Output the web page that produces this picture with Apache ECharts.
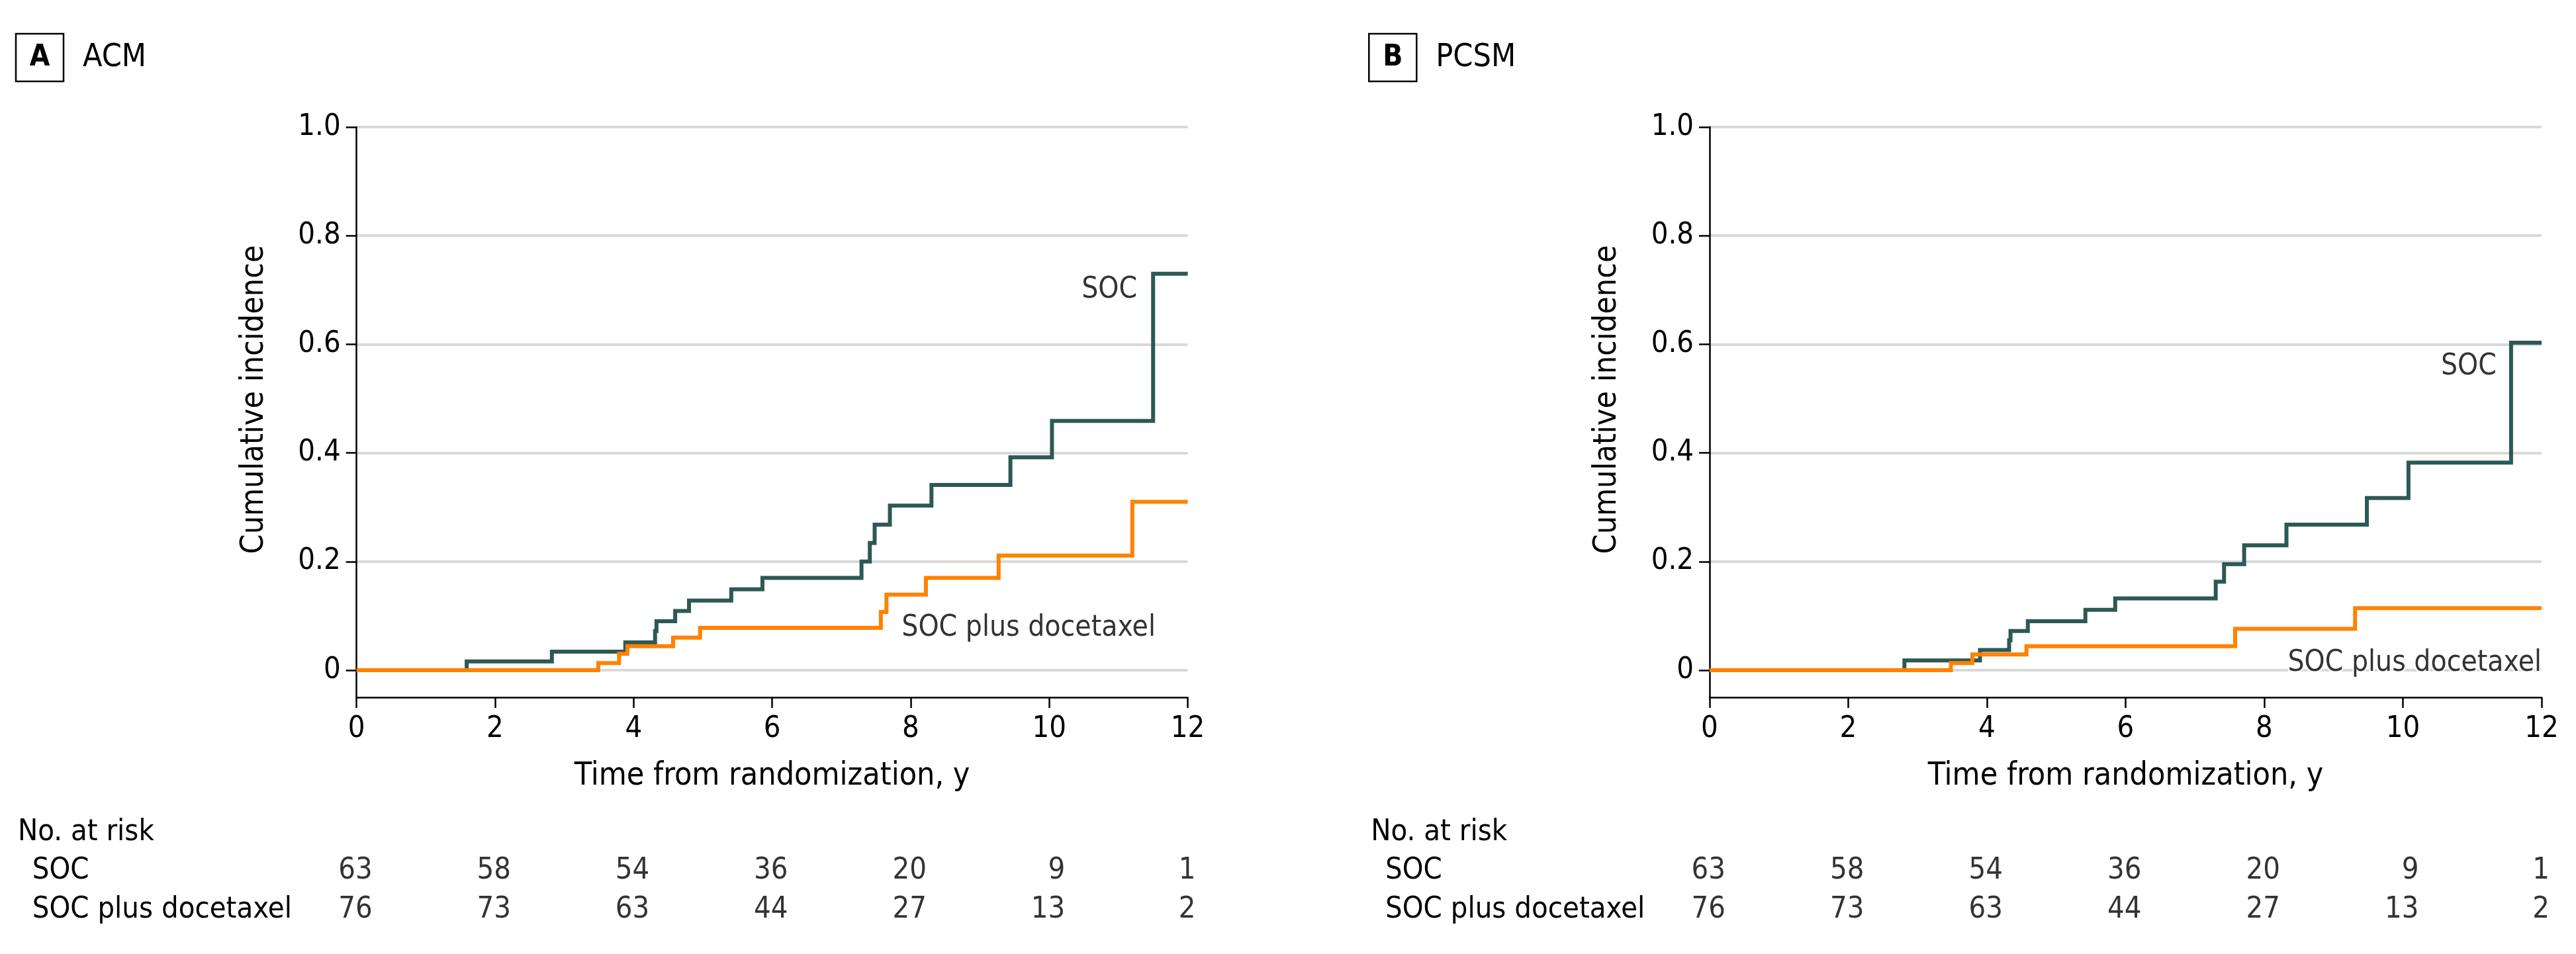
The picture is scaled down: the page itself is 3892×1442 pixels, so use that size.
<!DOCTYPE html>
<html>
<head>
<meta charset="utf-8">
<script src="https://cdn.jsdelivr.net/npm/echarts@6/dist/echarts.min.js"></script>
<style>
html,body{margin:0;padding:0;background:#fff;}
#chart{width:3892px;height:1442px;}
</style>
</head>
<body>
<div id="chart"></div>
<script>
// ---- data ----
const riskTimes = [0, 2, 4, 6, 8, 10, 12];
const riskRows = ['SOC', 'SOC plus docetaxel'];
const riskSOC = [63, 58, 54, 36, 20, 9, 1];
const riskDoc = [76, 73, 63, 44, 27, 13, 2];
const yTickValues = [0, 0.2, 0.4, 0.6, 0.8, 1.0];

const acmSocT = [0, 1.59, 2.82, 3.88, 4.31, 4.33, 4.60, 4.80, 5.41, 5.86, 7.29, 7.41, 7.48, 7.70, 8.30, 9.44, 10.04, 11.50, 12];
const acmSocV = [0, 0.016, 0.034, 0.051, 0.072, 0.090, 0.109, 0.128, 0.149, 0.170, 0.200, 0.234, 0.268, 0.303, 0.341, 0.392, 0.459, 0.730, 0.730];
const acmDocT = [0, 3.49, 3.79, 3.91, 4.57, 4.96, 7.57, 7.65, 8.22, 9.27, 11.20, 12];
const acmDocV = [0, 0.013, 0.030, 0.044, 0.060, 0.078, 0.107, 0.139, 0.170, 0.211, 0.310, 0.310];

const pcsmSocT = [0, 2.81, 3.90, 4.32, 4.34, 4.59, 5.42, 5.85, 7.30, 7.42, 7.71, 8.32, 9.48, 10.08, 11.56, 12];
const pcsmSocV = [0, 0.018, 0.037, 0.055, 0.072, 0.090, 0.111, 0.132, 0.163, 0.195, 0.230, 0.268, 0.317, 0.382, 0.603, 0.603];
const pcsmDocT = [0, 3.48, 3.79, 4.57, 7.58, 9.31, 12];
const pcsmDocV = [0, 0.013, 0.029, 0.044, 0.076, 0.114, 0.114];

const panelTitles = ['ACM', 'PCSM'];
const panelLetters = ['A', 'B'];
const seriesNames = ['SOC', 'SOC plus docetaxel'];

// ---- style ----
const FF = '"DejaVu Sans Condensed", "DejaVu Sans", sans-serif';
const TEAL = '#2d5955';
const ORANGE = '#ff8200';
const panels = [
  { left: 538.7, width: 1255.8, dx: 0 },
  { left: 2583, width: 1257, dx: 2044.3 }
];

const zip = (t, v) => t.map((x, i) => [x, v[i]]);
const curves = [
  [zip(acmSocT, acmSocV), zip(acmDocT, acmDocV)],
  [zip(pcsmSocT, pcsmSocV), zip(pcsmDocT, pcsmDocV)]
];
// in-plot curve labels: [x, y] anchors in data units
const curveLabels = [
  [{ name: seriesNames[0], value: [11.27, 0.70], align: 'right' },
   { name: seriesNames[1], value: [7.87, 0.077], align: 'left' }],
  [{ name: seriesNames[0], value: [11.35, 0.558], align: 'right' },
   { name: seriesNames[1], value: [12, 0.013], align: 'right' }]
];

const grid = [], xAxis = [], yAxis = [], series = [], graphic = [];
panels.forEach((p, k) => {
  grid.push({ left: p.left, width: p.width, top: 192, height: 862, containLabel: false });
  grid.push({ left: p.left, width: p.width, top: 1286.5, height: 118, containLabel: false });
  const gPlot = 2 * k, gRisk = 2 * k + 1;

  xAxis.push({
    gridIndex: gPlot, type: 'value', min: 0, max: 12, interval: 2,
    axisLine: { show: true, onZero: false, lineStyle: { color: '#000', width: 2.5 } },
    axisTick: { show: true, length: 16, lineStyle: { color: '#000', width: 2.5 } },
    axisLabel: { margin: 26, fontSize: 45, color: '#000', fontFamily: FF },
    splitLine: { show: false },
    name: 'Time from randomization, y', nameLocation: 'middle', nameGap: 96,
    nameTextStyle: { fontSize: 48, color: '#000', fontFamily: FF }
  });
  yAxis.push({
    gridIndex: gPlot, type: 'value', min: -0.05, max: 1.0,
    axisLine: { show: true, onZero: false, lineStyle: { color: '#000', width: 2.5 } },
    axisTick: { show: true, length: 16, customValues: yTickValues, lineStyle: { color: '#000', width: 2.5 } },
    axisLabel: {
      customValues: yTickValues, margin: 24, fontSize: 45, color: '#000', fontFamily: FF,
      formatter: v => (Math.abs(v) < 1e-9 ? '0' : v.toFixed(1))
    },
    splitLine: { show: true, lineStyle: { color: '#d9d9d9', width: 4 } },
    name: 'Cumulative incidence', nameLocation: 'middle', nameGap: 130, nameRotate: 90,
    nameTextStyle: { fontSize: 48, color: '#000', fontFamily: FF, padding: [0, 0, 0, 38] }
  });

  xAxis.push({ gridIndex: gRisk, type: 'value', min: 0, max: 12, show: false });
  yAxis.push({
    gridIndex: gRisk, type: 'category', data: riskRows, inverse: true,
    axisLine: { show: false }, axisTick: { show: false }, splitLine: { show: false },
    axisLabel: { align: 'left', margin: 490, fontSize: 45, color: '#000', fontFamily: FF }
  });

  [TEAL, ORANGE].forEach((c, s) => {
    series.push({
      type: 'line', name: seriesNames[s], xAxisIndex: 2 * k, yAxisIndex: 2 * k,
      step: 'end', symbol: 'none', data: curves[k][s],
      lineStyle: { color: c, width: 6, cap: 'butt', join: 'miter' }, itemStyle: { color: c },
      silent: true, z: 3 + s
    });
  });

  series.push({
    type: 'scatter', xAxisIndex: 2 * k, yAxisIndex: 2 * k, symbolSize: 0, silent: true, z: 10,
    clip: false,
    data: curveLabels[k].map(d => ({
      name: d.name, value: d.value,
      label: { align: d.align }
    })),
    label: {
      show: true, position: 'inside', formatter: '{b}', verticalAlign: 'middle',
      fontSize: 44, color: '#000', fontFamily: FF, textBorderColor: '#fff', textBorderWidth: 5
    }
  });

  [riskSOC, riskDoc].forEach((arr, r) => {
    series.push({
      type: 'scatter', xAxisIndex: 2 * k + 1, yAxisIndex: 2 * k + 1, symbolSize: 0, silent: true,
      clip: false,
      data: arr.map((n, i) => {
        const item = { value: [riskTimes[i], r, n] };
        if (i === arr.length - 1) item.label = { offset: [12, 0] };
        return item;
      }),
      label: {
        show: true, position: 'inside', align: 'right', verticalAlign: 'middle', offset: [24, 0],
        formatter: p => String(p.value[2]), fontSize: 45, color: '#000', fontFamily: FF
      }
    });
  });

  graphic.push({
    type: 'rect', shape: { x: 24 + p.dx, y: 51, width: 72, height: 72 },
    style: { fill: 'none', stroke: '#000', lineWidth: 2.5 }, silent: true
  });
  graphic.push({
    type: 'text', x: 60 + p.dx, y: 88,
    style: { text: panelLetters[k], fill: '#000', font: 'bold 44px ' + FF, align: 'center', verticalAlign: 'middle' },
    silent: true
  });
  graphic.push({
    type: 'text', x: 125 + p.dx, y: 88,
    style: { text: panelTitles[k], fill: '#000', font: '48px ' + FF, align: 'left', verticalAlign: 'middle' },
    silent: true
  });
  graphic.push({
    type: 'text', x: 27 + p.dx, y: 1258,
    style: { text: 'No. at risk', fill: '#000', font: '45px ' + FF, align: 'left', verticalAlign: 'middle' },
    silent: true
  });
});

const chart = echarts.init(document.getElementById('chart'), null, { renderer: 'canvas' });
chart.setOption({
  animation: false,
  backgroundColor: '#fff',
  textStyle: { fontFamily: FF },
  grid, xAxis, yAxis, series, graphic
});
</script>
</body>
</html>
